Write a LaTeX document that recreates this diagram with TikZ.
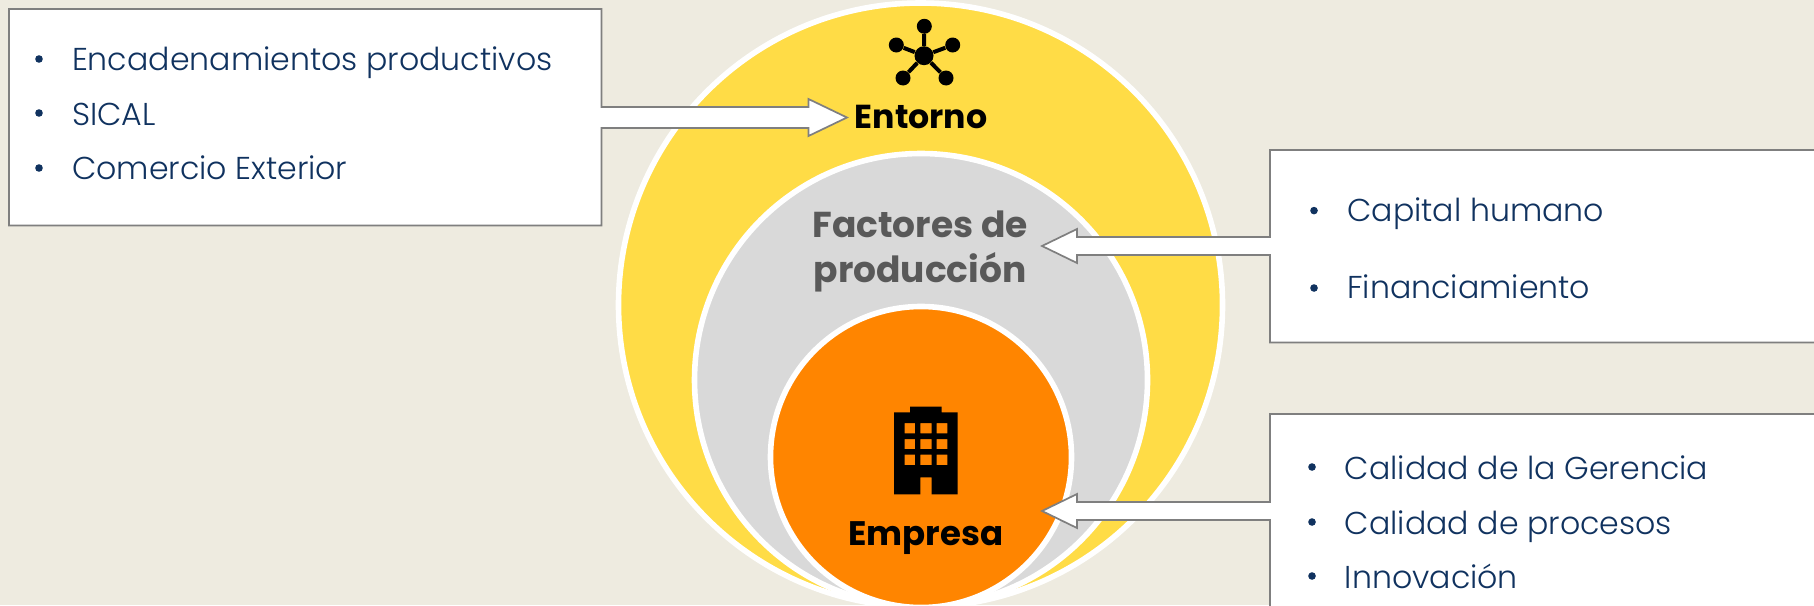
\documentclass[tikz,border=0pt]{standalone}
\usepackage{fontspec}
\setmainfont{Poppins}
\newfontfamily\lightf{Poppins Light}
\definecolor{bgc}{HTML}{EEEBE0}
\definecolor{yel}{HTML}{FFDC46}
\definecolor{gry}{HTML}{D9D9D9}
\definecolor{org}{HTML}{FF8500}
\definecolor{navy}{HTML}{10325F}
\definecolor{edge}{HTML}{7F7F7F}
\definecolor{dgry}{HTML}{595959}
\tikzset{
  ring/.style={draw=white,line width=2.8pt},
  callout/.style={draw=edge,fill=white,line width=0.85pt,line join=miter},
  item/.style={inner sep=0pt,anchor=base west,text=navy,font=\lightf\fontsize{15.8}{18}\selectfont},
  dot/.style={circle,fill=navy,inner sep=0pt,minimum size=3.8pt},
  head/.style={inner sep=0pt,anchor=base,font=\bfseries\fontsize{17}{20}\selectfont},
  hubn/.style={circle,fill=black,inner sep=0pt},
}
\begin{document}
\begin{tikzpicture}[x=0.5pt,y=-0.5pt]
\useasboundingbox (0,0) rectangle (1814,605);
\fill[bgc] (0,0) rectangle (1814,605);
\begin{scope}
\clip (0,0) rectangle (1814,605);
\path[ring,fill=yel] (920.5,305) circle[radius=302];
\path[ring,fill=gry] (921,380) circle[radius=226.5];
\path[ring,fill=org] (921,457) circle[radius=150.5];
% callouts
\path[callout] (9,9) -- (601.5,9) -- (601.5,107) -- (808.5,107) -- (808.5,99) -- (847,117.5) -- (808.5,136) -- (808.5,128) -- (601.5,128) -- (601.5,225.5) -- (9,225.5) -- cycle;
\path[callout] (1830,150) -- (1270,150) -- (1270,237) -- (1077,237) -- (1077,229) -- (1042,246) -- (1077,263) -- (1077,255) -- (1270,255) -- (1270,342.5) -- (1830,342.5) -- cycle;
\path[callout] (1830,414) -- (1270,414) -- (1270,502) -- (1077,502) -- (1077,494) -- (1042,511) -- (1077,528) -- (1077,520) -- (1270,520) -- (1270,620) -- (1830,620) -- cycle;
\end{scope}
% building
\fill[black,even odd rule] (894,494.3) -- (894,412.3) -- (910,412.3) -- (910,406.7) -- (941.7,406.7) -- (941.7,412.3) -- (957.7,412.3) -- (957.7,494.3) -- (931.7,494.3) -- (931.7,477.3) -- (920.3,477.3) -- (920.3,494.3) -- cycle
 (904.7,423) rectangle (915,433.3) (920.3,423) rectangle (931.7,433.3) (936.7,423) rectangle (947.3,433.3)
 (904.7,439) rectangle (915,449) (920.3,439) rectangle (931.7,449) (936.7,439) rectangle (947.3,449)
 (904.7,454.7) rectangle (915,465) (920.3,454.7) rectangle (931.7,465) (936.7,454.7) rectangle (947.3,465);
% hub icon
\node[hubn,minimum size=9.5pt] (hc) at (924,55.7) {};
\foreach \n/\x/\y in {a/924.3/26.3,b/896.3/45,c/952.7/45,d/903/78,e/946/78}{
  \node[hubn,minimum size=7.5pt] (\n) at (\x,\y) {};
  \draw[black,line width=2pt] (hc) -- (\n);
}
% labels
\node[head,text=black,font=\bfseries\fontsize{16.6}{20}\selectfont] (en) at (921,128.5) {Entorno};
\node[head,text=dgry,font=\bfseries\fontsize{18}{20}\selectfont] (fa) at (920,237) {Factores de};
\node[head,text=dgry,font=\bfseries\fontsize{18}{20}\selectfont] (pr) at (920,282) {producción};
\node[head,text=black] (em) at (926,545) {Empresa};
% lists
\foreach \n/\bx/\by/\tx/\ty/\t in {
 i1/39/59/71.7/70.7/Encadenamientos productivos,
 i2/39/113/71.7/125/SICAL,
 i3/39/168/71.7/179/Comercio Exterior,
 i4/1314/210.6/1347/221/Capital humano,
 i5/1314/288/1347/298.5/Financiamiento,
 i6/1312/467/1344.5/479/Calidad de la Gerencia,
 i7/1312/522/1344.5/534/Calidad de procesos,
 i8/1312/576/1344.5/588/Innovación}{
  \node[dot] (b\n) at (\bx,\by) {};
  \node[item] (t\n) at (\tx,\ty) {\t};
}
\end{tikzpicture}
\end{document}
